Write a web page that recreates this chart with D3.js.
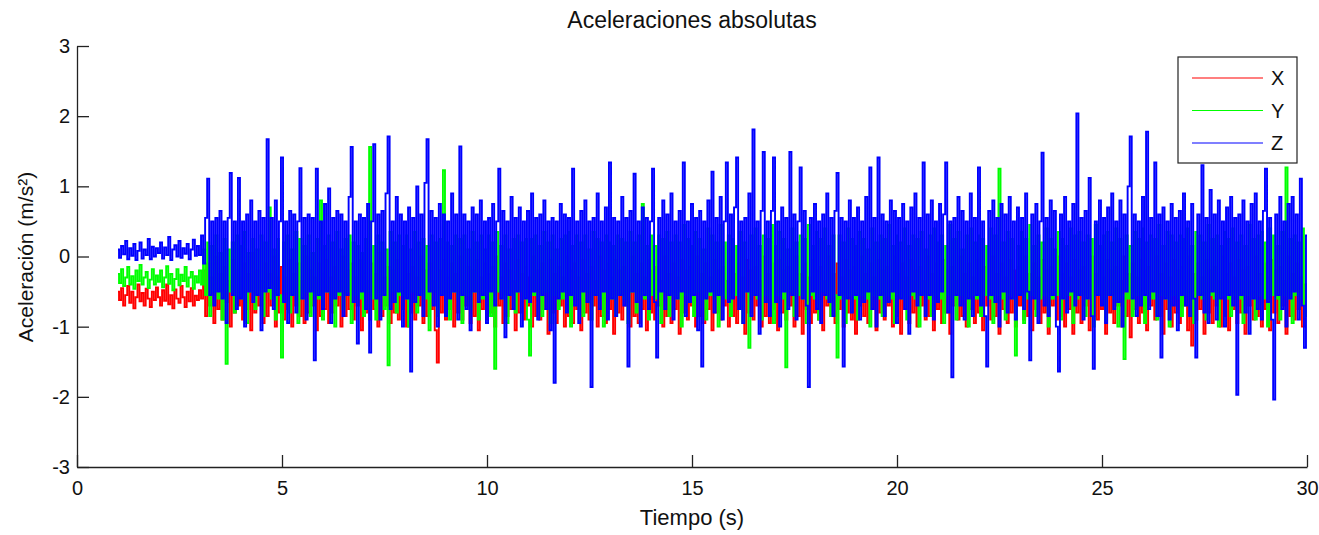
<!DOCTYPE html>
<html>
<head>
<meta charset="utf-8">
<script src="https://cdn.jsdelivr.net/npm/d3@7"></script>
<style>
  html, body { margin: 0; padding: 0; background: #fff; }
  svg { display: block; }
  text { font-family: "Liberation Sans", Arial, sans-serif; fill: #111; }
</style>
</head>
<body>
<script>
// ---------------- data ----------------
const titleText = "Aceleraciones absolutas";
const xLabel = "Tiempo (s)";
const yLabel = "Aceleración (m/s²)";
const xTicks = [0, 5, 10, 15, 20, 25, 30];
const yTicks = [-3, -2, -1, 0, 1, 2, 3];
const seriesNames = ["X", "Y", "Z"];
const seriesColors = ["#ff0000", "#00ff00", "#0000ff"];

const tStart = 1.0;   // first sample time (s)
const dt = 0.05;      // sample step (s)

// Z acceleration (m/s²), from t = 1.0 s, step 0.05 s
const accZ = [
  0.1,-0.02,0.15,0.03,0.22,-0.04,0.12,0.01,0.18,-0.05,0.08,0.2,-0.03,0.1,0.02,0.25,-0.04,0.14,0.0,0.12,
  0.05,0.2,-0.03,0.13,0.02,0.28,-0.05,0.1,0.16,0.0,0.22,-0.02,0.12,0.04,0.18,-0.04,0.1,0.24,0.01,0.15,
  0.02,0.3,-0.1,0.55,1.11,-0.55,0.5,-0.7,0.55,-0.5,0.65,-0.6,0.5,-0.95,0.55,1.19,-0.55,0.5,-0.75,1.12,
  -0.6,0.5,-1.0,0.6,-0.5,0.8,-0.65,0.5,-0.55,0.65,-1.05,0.55,-0.5,1.67,-0.45,0.55,-0.75,0.8,-0.55,0.5,
  1.41,-0.65,0.5,-0.95,0.65,-0.55,0.6,-0.8,0.5,1.26,-0.6,0.55,-0.9,0.6,-0.5,0.55,-1.48,1.25,-0.55,0.5,
  -0.75,0.75,-0.5,0.97,-0.95,0.55,-0.6,0.65,-0.5,0.6,-0.85,0.5,-0.55,0.85,1.56,-0.65,0.5,-1.24,0.6,-0.5,
  0.55,-0.75,0.75,-1.37,0.5,1.6,-0.6,0.6,-0.9,0.65,-0.55,0.9,1.71,-0.75,0.5,-0.65,0.85,-0.5,0.6,-1.0,
  0.5,-0.6,0.7,-1.64,0.55,-0.65,1.0,-0.55,0.6,-0.85,1.05,1.67,-0.5,0.65,-0.7,0.55,-1.0,0.75,-0.55,0.6,
  -0.85,0.5,-0.6,0.9,-0.5,0.6,-0.9,1.57,-0.55,0.6,-0.75,0.5,-1.05,0.7,-0.5,0.6,-0.65,0.8,-0.55,0.5,
  -0.95,0.55,-0.5,0.75,-0.7,0.5,1.25,-0.6,0.65,-1.15,0.5,-0.55,0.85,-0.75,0.55,-0.5,0.7,-1.0,0.5,-0.6,
  0.65,-0.65,0.9,-0.5,0.55,-0.9,0.6,-0.55,0.8,-0.75,0.5,-1.05,0.55,-1.8,0.5,-0.6,0.75,-0.5,0.6,-0.8,
  0.55,-0.55,1.25,-0.7,0.5,-0.95,0.65,-0.5,0.8,-0.65,0.5,-1.86,0.55,-0.55,0.9,-0.75,0.5,-0.5,0.7,-0.9,
  1.34,-0.6,0.55,-0.85,0.5,-0.55,0.85,-0.7,0.55,-1.57,0.65,-0.5,1.18,-0.65,0.5,-1.0,0.7,-0.55,0.55,-0.75,
  0.5,1.25,-0.65,-1.44,0.55,-0.5,0.8,-0.75,0.6,-0.55,0.9,-0.9,0.5,-0.6,0.65,-0.5,1.34,-0.85,0.5,-0.65,
  0.75,-0.55,0.55,-1.05,0.65,-1.57,0.5,-0.6,0.8,-0.5,1.21,-0.8,0.55,-0.55,0.85,-0.9,0.5,1.34,-0.65,0.6,
  -0.6,0.7,1.41,-0.75,0.5,-0.95,0.55,-0.5,0.9,-0.85,1.81,-0.55,0.5,-1.1,0.65,1.49,-0.65,0.5,-0.85,0.65,
  1.41,-0.65,0.5,-1.0,0.7,-0.5,0.55,-0.75,1.49,-0.55,0.6,-0.9,0.5,1.27,-0.6,0.65,-0.7,-1.86,0.55,-0.5,
  0.75,-0.75,0.5,-0.95,0.6,-0.55,0.9,-0.65,0.55,-0.85,0.65,1.19,-0.55,0.55,-1.57,0.5,-0.6,0.8,-0.8,0.55,
  -0.55,0.7,-0.9,0.5,-0.65,0.85,-0.5,1.27,-0.75,0.55,-1.0,1.41,-0.55,0.6,-0.85,0.5,-0.65,0.8,-0.5,0.65,
  -0.95,0.55,-0.6,0.75,-0.75,0.5,-1.1,0.7,-0.5,0.9,-0.7,0.55,-0.55,1.34,-0.85,0.6,-0.55,0.8,-0.9,0.5,
  -0.65,0.75,-0.5,0.6,1.34,-0.8,0.5,-1.72,0.55,-0.55,0.85,-0.7,0.65,-0.9,0.5,-0.6,0.9,-0.85,0.55,-0.55,
  1.27,-0.7,0.5,-0.85,-1.57,0.65,-0.55,0.8,-0.65,0.55,-1.0,0.75,-0.5,0.6,-0.8,0.85,-0.6,0.5,-0.9,0.7,
  -0.55,0.55,-0.75,0.9,-0.5,-1.48,0.6,-0.6,0.75,-0.95,0.5,1.48,-0.7,0.55,-0.85,0.8,-0.55,0.65,-1.0,-1.64,
  0.6,-0.6,0.85,-0.8,0.5,-0.5,0.75,-0.7,2.04,-0.55,0.55,-0.9,0.65,-0.6,1.12,-0.85,-1.6,0.5,-0.55,0.8,
  -0.7,0.55,-0.95,0.7,-0.55,0.9,-0.75,0.5,-0.65,0.8,-1.0,0.6,-0.5,1.0,1.71,-0.6,0.6,-0.85,0.5,-0.7,
  0.85,-0.55,1.78,-0.75,0.55,-0.5,1.34,-0.85,0.6,-1.44,0.7,-0.6,0.5,-0.9,0.75,-0.7,0.55,-1.05,0.65,-0.55,
  0.9,-0.7,0.5,-0.85,0.75,-0.6,-1.44,0.6,-0.55,1.3,-0.8,0.55,-0.95,0.95,-0.5,0.6,-0.9,0.8,-0.6,0.5,
  -1.0,0.7,-0.55,0.85,-0.7,0.55,-1.97,0.6,-0.55,0.8,-0.8,0.5,-1.1,0.75,-0.6,0.9,-0.75,0.5,-0.9,0.65,
  1.25,-0.65,0.55,-0.9,-2.04,0.6,-0.55,0.85,-0.75,0.5,-1.0,0.75,-0.6,0.85,-0.5,0.6,-0.9,1.11,-0.7,-1.3,
  0.3
];

// Y acceleration (m/s²), from t = 1.0 s, step 0.05 s
const accY = [
  -0.25,-0.38,-0.18,-0.42,-0.3,-0.15,-0.4,-0.28,-0.46,-0.2,-0.35,-0.12,-0.4,-0.3,-0.22,-0.45,-0.33,-0.18,-0.4,-0.27,
  -0.36,-0.2,-0.44,-0.3,-0.14,-0.39,-0.25,-0.48,-0.32,-0.18,-0.41,-0.26,-0.35,-0.15,-0.43,-0.3,-0.22,-0.46,-0.28,-0.37,
  -0.2,-0.4,0.1,-0.55,0.2,-0.85,0.15,-0.5,0.3,-0.6,0.05,-0.9,0.25,-1.53,0.1,-0.5,0.2,-0.8,0.3,-0.55,
  0.15,-0.6,0.35,-0.95,0.05,-0.5,0.25,-0.75,0.1,-0.55,0.3,-0.85,0.2,-0.5,0.7,-0.6,0.1,-0.9,0.25,-0.55,
  -1.44,0.2,-0.5,0.3,-0.8,0.1,-0.55,0.35,-0.95,0.25,-0.6,0.15,-0.5,0.3,-0.85,0.05,-0.55,0.25,-0.6,0.8,
  -0.9,0.15,-0.5,0.3,-0.6,0.2,-1.0,0.35,-0.55,0.1,-0.75,0.25,-0.5,0.3,-0.95,0.2,-0.55,0.15,-0.6,0.05,
  -0.85,0.25,-0.5,1.56,-0.6,0.15,-0.9,0.3,-0.55,0.2,-0.75,0.1,-1.55,0.35,-0.5,0.2,-0.8,0.3,-0.55,0.15,
  -0.6,0.3,-1.0,0.1,-0.5,0.35,-0.8,0.2,-0.55,0.25,-0.6,0.15,-1.05,0.3,-0.5,0.2,-0.85,0.25,-0.55,1.23,
  -0.6,0.2,-0.9,0.15,-0.5,0.3,-0.6,0.25,-0.95,0.3,-0.55,0.1,-0.75,0.35,-0.5,0.2,-0.9,0.3,-0.6,0.1,
  -0.55,0.3,-0.85,0.2,-1.6,0.35,-0.5,0.15,-0.6,0.3,-0.95,0.1,-0.55,0.25,-0.8,0.3,-0.5,0.2,-0.6,0.25,
  -0.9,-1.41,0.25,-0.55,0.3,-0.6,0.15,-0.85,0.35,-0.5,0.2,-0.95,0.3,-0.55,0.1,-0.75,0.25,-0.6,0.3,-0.5,
  0.35,-1.0,0.15,-0.55,0.3,-0.6,0.2,-0.85,0.3,-0.5,0.1,-0.9,0.35,-0.55,0.25,-0.6,0.2,-1.0,0.3,-0.5,
  0.2,-0.6,0.15,-0.85,0.3,-0.55,0.25,-0.6,0.2,-0.95,0.35,-0.5,0.2,-0.8,0.3,-0.55,0.75,-0.6,0.15,-0.9,
  0.3,-0.55,0.15,-0.6,0.3,-0.95,0.25,-0.5,0.35,-0.85,0.2,-0.55,0.3,-0.6,0.2,-1.0,0.45,-0.55,0.25,-0.6,
  0.15,-0.85,0.35,-0.5,0.25,-0.6,0.1,-0.9,0.4,-0.55,0.3,-0.6,0.2,-1.0,0.45,-0.55,0.2,-0.6,0.3,-0.85,
  0.25,-0.55,0.15,-0.6,0.35,-0.95,0.2,-0.5,-1.3,0.3,-0.55,0.4,-0.6,0.15,-0.9,0.3,-0.55,0.25,-0.6,0.45,
  -0.95,0.15,-0.55,0.35,-0.6,0.25,-1.58,0.1,-0.5,0.4,-0.85,0.2,-0.55,0.3,-0.6,0.25,-0.95,0.45,-0.55,0.15,
  -0.6,0.35,-0.9,0.25,-0.5,0.4,-0.6,0.15,-0.85,0.3,-0.55,-1.44,0.3,-0.6,0.2,-0.95,0.4,-0.55,0.25,-0.6,
  0.15,-0.9,0.35,-0.55,0.25,-0.6,0.1,-1.0,0.4,-0.55,0.2,-0.6,0.3,-0.85,0.25,-0.55,0.45,-0.6,0.15,-0.95,
  0.3,-0.55,0.2,-0.6,0.4,-0.9,0.15,-0.55,0.3,-0.6,0.25,-1.0,0.35,-0.55,0.1,-0.6,0.3,-0.85,0.4,-0.55,
  0.2,-0.6,0.3,-0.95,0.15,-0.55,0.45,-0.6,0.25,-0.9,0.35,-0.55,0.1,-0.6,0.3,-1.0,0.4,-0.55,0.2,-0.6,
  0.3,-0.85,0.25,-0.55,0.15,-0.6,0.4,-0.95,0.3,-0.55,1.25,-0.6,0.2,-0.9,0.35,-0.55,0.25,-0.6,-1.41,0.15,
  -0.55,0.35,-0.95,0.25,-0.6,0.45,-0.55,0.15,-0.85,0.3,-0.6,0.2,-0.55,0.4,-1.0,0.25,-0.6,0.1,-0.55,0.35,
  -0.9,0.25,-0.6,0.15,-0.55,0.4,-0.95,0.3,-0.6,0.35,-0.55,0.2,-0.85,0.3,-0.6,0.25,-1.0,0.45,-0.55,0.15,
  -0.6,0.3,-0.9,0.35,-0.55,0.2,-0.6,0.4,-1.0,0.25,-0.55,-1.46,0.3,-0.6,0.15,-0.85,0.35,-0.55,0.25,-0.6,
  0.4,-0.95,0.2,-0.55,0.3,-0.6,0.25,-0.9,0.45,-0.55,0.15,-0.6,0.35,-1.0,0.3,-0.55,0.2,-0.6,0.3,-0.85,
  0.25,-0.55,0.4,-0.6,0.15,-0.95,0.35,-0.55,0.3,-0.6,0.2,-0.9,0.45,-0.55,0.25,-0.6,0.3,-1.0,0.15,-0.55,
  0.35,-0.6,0.25,-0.85,0.4,-0.55,0.2,-0.6,0.3,-0.95,0.15,-0.55,0.45,-0.6,0.25,-0.9,0.3,-0.55,0.35,-0.6,
  0.2,-1.0,0.4,-0.55,0.3,-0.6,0.15,-0.9,0.35,-0.55,1.27,-0.6,0.25,-0.95,0.3,-0.55,0.2,-0.6,0.4,-0.85,
  -0.4
];

// X acceleration (m/s²), from t = 1.0 s, step 0.05 s
const accX = [
  -0.5,-0.62,-0.45,-0.7,-0.55,-0.42,-0.66,-0.5,-0.74,-0.58,-0.4,-0.64,-0.52,-0.7,-0.46,-0.6,-0.72,-0.5,-0.62,-0.44,
  -0.58,-0.7,-0.48,-0.63,-0.4,-0.68,-0.55,-0.74,-0.47,-0.6,-0.66,-0.42,-0.58,-0.72,-0.5,-0.64,-0.45,-0.7,-0.56,-0.62,
  -0.48,-0.6,-0.2,-0.85,-0.1,-0.7,-0.3,-0.95,0.0,-0.75,-0.25,-0.9,-0.15,-0.65,-0.35,-1.0,-0.05,-0.8,-0.2,-0.7,
  -0.3,-0.9,-0.1,-0.75,-0.25,-1.05,0.05,-0.8,-0.2,-0.7,-0.35,-0.95,-0.1,-0.85,-0.25,-0.7,0.0,-1.0,-0.3,-0.8,
  -0.15,-0.9,-0.3,-0.75,-0.05,-1.0,-0.25,-0.7,-0.1,-0.85,-0.35,-0.95,0.0,-0.8,-0.2,-0.7,-0.3,-1.05,-0.1,-0.85,
  -0.25,-0.75,-0.05,-0.95,-0.3,-0.8,-0.15,-0.7,-0.35,-1.0,0.0,-0.85,-0.2,-0.75,-0.1,-0.9,-0.3,-0.7,-0.05,-1.05,
  -0.2,-0.8,-0.35,-0.9,-0.1,-0.75,-0.25,-1.0,0.05,-0.85,-0.3,-0.7,-0.15,-0.95,-0.2,-0.8,-0.05,-0.9,-0.35,-0.75,
  -0.1,-1.0,-0.25,-0.8,-0.15,-0.9,-0.3,-0.7,0.0,-0.95,-0.2,-0.85,-0.1,-0.75,-0.35,-1.05,-1.51,-0.2,-0.8,-0.05,
  -0.9,-0.3,-0.75,-0.1,-1.0,-0.25,-0.8,0.0,-0.9,-0.35,-0.7,-0.15,-0.95,-0.2,-0.85,-0.05,-1.05,-0.3,-0.75,-0.1,
  -0.9,-0.25,-0.8,-0.15,-1.0,0.0,-0.7,-0.3,-0.95,-0.1,-0.85,-0.2,-0.75,-0.35,-1.05,-0.05,-0.8,-0.25,-0.9,-0.15,
  -0.7,-0.3,-1.0,0.0,-0.85,-0.2,-0.9,-0.1,-0.75,-0.35,-1.1,-0.05,-0.8,-0.25,-0.95,-0.15,-0.7,-0.3,-1.0,0.0,
  -0.85,-0.2,-0.95,-0.1,-0.75,-0.3,-1.05,-0.05,-0.8,-0.25,-0.9,-0.15,-0.7,-0.35,-1.0,0.0,-0.85,-0.2,-0.95,-0.1,
  -0.75,-0.3,-1.1,-0.05,-0.8,-0.2,-0.9,-0.15,-0.7,-0.35,-1.0,0.0,-0.85,-0.25,-0.95,-0.1,-0.75,-0.3,-1.05,-0.05,
  -0.8,-0.2,-0.9,-0.15,-0.7,-0.35,-1.0,0.0,-0.85,-0.25,-0.95,-0.1,-0.75,-0.3,-1.1,-0.05,-0.8,-0.2,-0.9,-0.15,
  -0.7,-0.35,-1.0,0.0,-0.85,-0.25,-0.95,-0.1,-0.75,-0.3,-1.05,-0.05,-0.8,-0.2,-0.9,-0.15,-0.7,-0.35,-1.0,0.0,
  -0.85,-0.25,-0.95,-0.1,-0.75,-0.3,-1.1,-0.05,-0.8,-0.2,-0.9,-0.15,-0.7,-0.35,-1.0,0.0,-0.85,-0.25,-0.95,-0.1,
  -0.75,-0.3,-1.05,-0.05,-0.8,-0.2,-0.9,-0.15,-0.7,-0.35,-1.0,0.0,-0.85,-0.25,-1.1,-0.1,-0.75,-0.3,-0.95,-0.05,
  -0.8,-0.2,-0.9,-0.15,-1.05,-0.35,-0.7,0.0,-0.85,-0.25,-0.95,-0.1,-0.75,-0.3,-1.0,-0.05,-0.8,-0.2,-0.9,-0.15,
  -1.1,-0.35,-0.7,0.0,-0.85,-0.25,-0.95,-0.1,-0.75,-0.3,-1.05,-0.05,-0.8,-0.2,-0.9,-0.15,-0.7,-0.35,-1.0,0.0,
  -0.85,-0.25,-1.1,-0.1,-0.75,-0.3,-0.95,-0.05,-0.8,-0.2,-1.0,-0.15,-0.7,-0.35,-0.9,0.0,-0.85,-0.25,-1.05,-0.1,
  -0.75,-0.3,-0.95,-0.05,-0.8,-0.2,-1.1,-0.15,-0.7,-0.35,-0.9,0.0,-0.85,-0.25,-1.0,-0.1,-0.75,-0.3,-0.95,-0.05,
  -0.8,-0.2,-1.05,-0.15,-0.7,-0.35,-0.9,0.0,-0.85,-0.25,-1.1,-0.1,-0.75,-0.3,-0.95,-0.05,-0.8,-0.2,-1.0,-0.15,
  -0.7,-0.35,-0.9,0.0,-0.85,-0.25,-1.05,-0.1,-0.75,-0.3,-0.95,-0.05,-0.8,-0.2,-1.1,-0.15,-0.7,-0.35,-0.9,0.0,
  -0.85,-0.25,-1.0,-0.1,-0.75,-0.3,-1.1,-0.05,-0.8,-0.2,-0.95,-0.15,-0.7,-0.35,-1.05,0.0,-0.85,-0.25,-0.9,-0.1,
  -0.75,-0.3,-1.1,-0.05,-0.8,-0.2,-0.95,-0.15,-0.7,-0.35,-1.0,0.0,-0.85,-0.25,-1.15,-0.1,-0.75,-0.3,-0.95,-0.05,
  -0.8,-0.2,-1.05,-0.15,-0.7,-0.35,-0.9,0.0,-0.85,-0.25,-1.1,-0.1,-0.75,-0.3,-1.0,-0.05,-0.8,-0.2,-0.95,-0.15,
  -0.7,-0.35,-1.05,0.0,-1.27,-0.25,-0.9,-0.1,-0.75,-0.3,-1.1,-0.05,-0.8,-0.2,-0.95,-0.15,-0.7,-0.35,-1.0,0.0,
  -0.85,-0.25,-1.05,-0.1,-0.75,-0.3,-0.95,-0.05,-0.8,-0.2,-1.1,-0.15,-0.7,-0.35,-0.9,0.0,-0.85,-0.25,-1.0,-0.1,
  -0.75,-0.3,-1.05,-0.05,-0.8,-0.2,-0.95,-0.15,-0.7,-0.35,-1.1,0.0,-0.85,-0.25,-0.9,-0.1,-0.75,-0.3,-1.0,-0.4,
  -0.6
];

// ---------------- chart ----------------
const W = 1319, H = 535;
const svg = d3.select("body").append("svg").attr("width", W).attr("height", H);

const x = d3.scaleLinear().domain([0, 30]).range([77, 1307]);
const y = d3.scaleLinear().domain([-3, 3]).range([467, 46]);

function toPoints(arr) {
  return arr.map((v, i) => [tStart + i * dt, v]);
}
const series = [
  { name: "X", pts: toPoints(accX), color: seriesColors[0] },
  { name: "Y", pts: toPoints(accY), color: seriesColors[1] },
  { name: "Z", pts: toPoints(accZ), color: seriesColors[2] }
];

const line = d3.line().x(d => x(d[0])).y(d => y(d[1])).curve(d3.curveStep);

svg.append("g").selectAll("path").data(series).join("path")
  .attr("d", d => line(d.pts))
  .attr("fill", "none")
  .attr("stroke", d => d.color)
  .attr("stroke-width", 1.9)
  .attr("stroke-linejoin", "miter");

// axes (MATLAB style: ticks inside, box off)
const xAxis = d3.axisBottom(x).tickValues(xTicks).tickFormat(d => String(d))
  .tickSizeInner(-12).tickSizeOuter(0).tickPadding(14);
const yAxis = d3.axisLeft(y).tickValues(yTicks).tickFormat(d => String(d))
  .tickSizeInner(-12).tickSizeOuter(0).tickPadding(7);

const gx = svg.append("g").attr("transform", "translate(0,467)").call(xAxis);
const gy = svg.append("g").attr("transform", "translate(77,0)").call(yAxis);
[gx, gy].forEach(g => {
  g.select(".domain").attr("stroke", "#222").attr("stroke-width", 1.3);
  g.selectAll(".tick line").attr("stroke", "#222").attr("stroke-width", 1.3);
  g.selectAll(".tick text").attr("font-family", "'Liberation Sans', Arial, sans-serif")
    .attr("font-size", 20).attr("fill", "#111");
});

// title and labels
svg.append("text").attr("x", 692).attr("y", 28).attr("text-anchor", "middle")
  .attr("font-size", 23).text(titleText);
svg.append("text").attr("x", 692).attr("y", 525).attr("text-anchor", "middle")
  .attr("font-size", 22).text(xLabel);
svg.append("text").attr("transform", "translate(33,257) rotate(-90)")
  .attr("text-anchor", "middle").attr("font-size", 21).text(yLabel);

// legend
const lg = svg.append("g");
lg.append("rect").attr("x", 1178).attr("y", 57).attr("width", 119).attr("height", 106)
  .attr("fill", "#fff").attr("stroke", "#222").attr("stroke-width", 1.2);
const legY = d3.scalePoint().domain(seriesNames).range([78, 143]);
seriesNames.forEach((n, i) => {
  lg.append("line").attr("x1", 1192).attr("x2", 1263)
    .attr("y1", legY(n)).attr("y2", legY(n))
    .attr("stroke", seriesColors[i]).attr("stroke-width", 1.2);
  lg.append("text").attr("x", 1271).attr("y", legY(n)).attr("dy", "0.35em")
    .attr("font-size", 20).text(n);
});
</script>
</body>
</html>
